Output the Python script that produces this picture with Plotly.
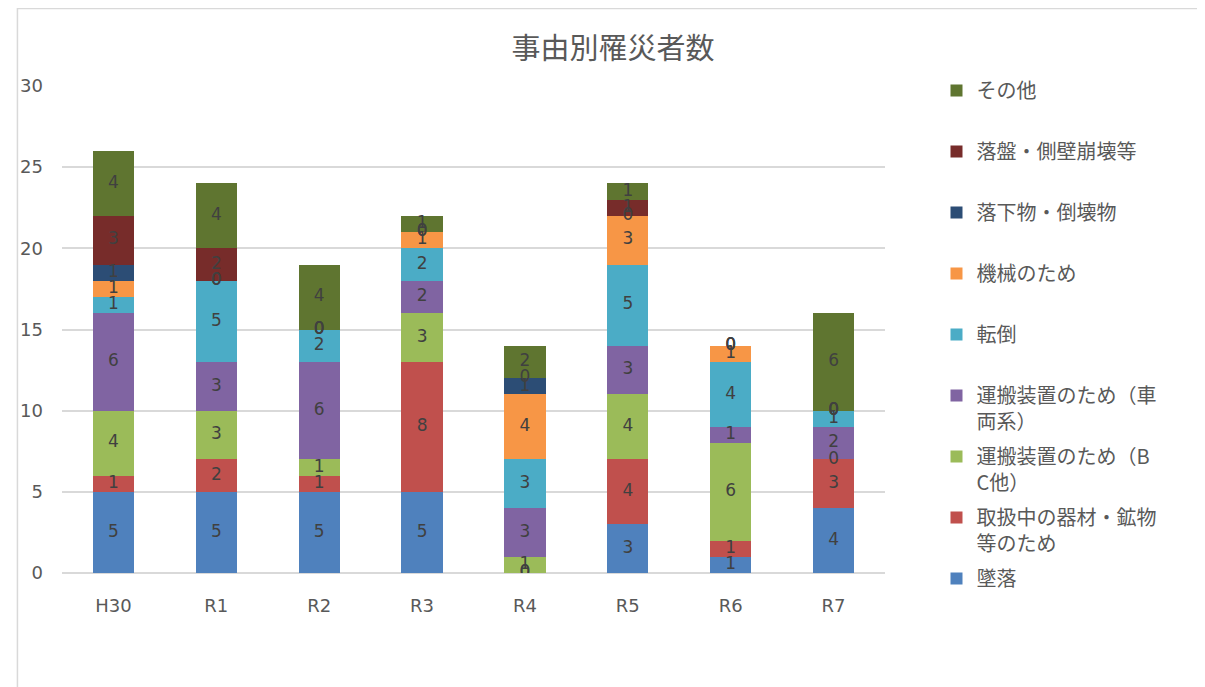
import plotly.graph_objects as go
import numpy as np

categories = ["H30", "R1", "R2", "R3", "R4", "R5", "R6", "R7"]

series_names = [
    "墜落",
    "取扱中の器材・鉱物<br>等のため",
    "運搬装置のため（B<br>C他）",
    "運搬装置のため（車<br>両系）",
    "転倒",
    "機械のため",
    "落下物・倒壊物",
    "落盤・側壁崩壊等",
    "その他",
]

tsuiraku = [5, 5, 5, 5, 0, 3, 1, 4]
toriatsukai = [1, 2, 1, 8, 0, 4, 1, 3]
unpan_bc = [4, 3, 1, 3, 1, 4, 6, 0]
unpan_sharyo = [6, 3, 6, 2, 3, 3, 1, 2]
tentou = [1, 5, 2, 2, 3, 5, 4, 1]
kikai = [1, 0, 0, 1, 4, 3, 1, 0]
rakkabutsu = [1, 0, 0, 0, 1, 0, 0, 0]
rakuban = [3, 2, 0, 0, 0, 1, 0, 0]
sonota = [4, 4, 4, 1, 2, 1, 0, 6]

series_values = [tsuiraku, toriatsukai, unpan_bc, unpan_sharyo, tentou,
                 kikai, rakkabutsu, rakuban, sonota]

colors = ["#4F81BD", "#C0504D", "#9BBB59", "#8064A2", "#4BACC6",
          "#F79646", "#2C4D75", "#772C2A", "#5F7530"]

FONT = "Noto Sans CJK JP"
NUMFONT = "DejaVu Sans"

fig = go.Figure()
for i, (name, vals, col) in enumerate(zip(series_names, series_values, colors)):
    legend_name = name if "<br>" in name else name + "<br> "
    fig.add_trace(go.Bar(
        x=categories, y=vals, name=legend_name, marker_color=col,
        marker_line_width=0, legendgroup=f"g{i}", legendrank=100 - i,
        hoverinfo="skip",
    ))

# data labels at segment midpoints
base = np.zeros(len(categories))
lx, ly, lt = [], [], []
for vals in series_values:
    v = np.array(vals, dtype=float)
    mid = base + v / 2
    for c, m, val in zip(categories, mid, vals):
        lx.append(c); ly.append(m); lt.append(str(val))
    base = base + v
fig.add_trace(go.Scatter(
    x=lx, y=ly, text=lt, mode="text", showlegend=False,
    textfont=dict(family=NUMFONT, size=17, color="#404040"), hoverinfo="skip",
))

# page is offset by 8px body margin
W, H = 1197, 679
L, R, T, B = 46, 320, 78, 114
pw, ph = W - L - R, H - T - B

fig.update_layout(
    width=W, height=H,
    margin=dict(l=L, r=R, t=T, b=B),
    barmode="stack", bargap=0.6,
    paper_bgcolor="white", plot_bgcolor="white",
    font=dict(family=FONT, color="#595959"),
    title=dict(text="事由別罹災者数", x=605 / W, xanchor="center",
               y=1 - 41 / H, yanchor="middle",
               font=dict(family=FONT, size=29, color="#595959")),
    legend=dict(
        x=(929 - L) / pw, xanchor="left", y=1 + (T - 63) / ph, yanchor="top",
        traceorder="grouped", tracegroupgap=6, valign="top",
        font=dict(family=FONT, size=20, color="#595959"),
        itemwidth=30, maxheight=700,
    ),
    xaxis=dict(showgrid=False, showline=False, ticks="",
               tickfont=dict(family=NUMFONT, size=18, color="#595959"),
               ticklabelstandoff=20),
    yaxis=dict(range=[0, 30], dtick=5, showgrid=True, gridcolor="#D9D9D9",
               gridwidth=1.5, zeroline=True, zerolinecolor="#D9D9D9",
               zerolinewidth=1.5, showline=False, ticks="",
               tickfont=dict(family=NUMFONT, size=18, color="#595959"),
               ticklabelstandoff=18),
    shapes=[dict(type="rect", xref="paper", yref="paper",
                 x0=(1 - L) / pw, x1=(1240 - L) / pw,
                 y0=-(H + 30 - T - ph) / ph, y1=1 + (T - 0.5) / ph,
                 line=dict(color="#D9D9D9", width=1.5), fillcolor="rgba(0,0,0,0)",
                 layer="below")],
)

fig.write_html("out.html")
